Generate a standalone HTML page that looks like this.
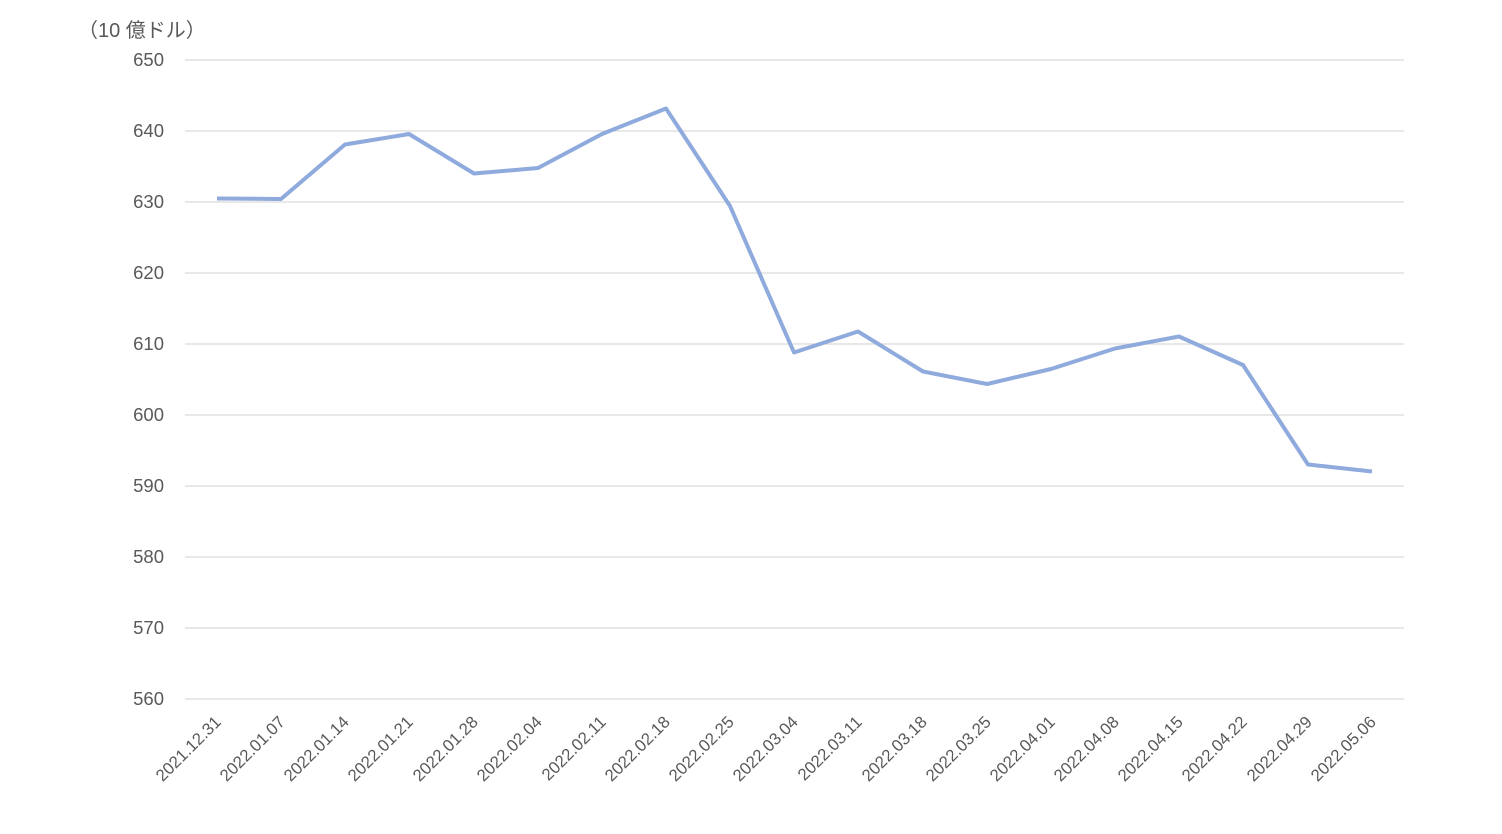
<!DOCTYPE html>
<html><head><meta charset="utf-8"><style>body{margin:0;background:#fff}</style></head><body>
<svg width="1502" height="829" xmlns="http://www.w3.org/2000/svg" style="font-family:'Liberation Sans','Noto Sans CJK JP',sans-serif">
<rect width="1502" height="829" fill="#fff"/>
<text x="78" y="37" font-size="20" fill="#595959">（10 億ドル）</text>
<g stroke="#d9d9d9" stroke-width="1.3">
<line x1="185" x2="1404" y1="60" y2="60"/><line x1="185" x2="1404" y1="131" y2="131"/><line x1="185" x2="1404" y1="202" y2="202"/><line x1="185" x2="1404" y1="273" y2="273"/><line x1="185" x2="1404" y1="344" y2="344"/><line x1="185" x2="1404" y1="415" y2="415"/><line x1="185" x2="1404" y1="486" y2="486"/><line x1="185" x2="1404" y1="557" y2="557"/><line x1="185" x2="1404" y1="628" y2="628"/><line x1="185" x2="1404" y1="699" y2="699"/>
</g>
<g font-size="18.5" fill="#595959" text-anchor="end">
<text x="164" y="66">650</text><text x="164" y="137">640</text><text x="164" y="208">630</text><text x="164" y="279">620</text><text x="164" y="350">610</text><text x="164" y="421">600</text><text x="164" y="492">590</text><text x="164" y="563">580</text><text x="164" y="634">570</text><text x="164" y="705">560</text>
</g>
<polyline fill="none" stroke="#8faadc" stroke-width="4" stroke-linejoin="round" points="217,198.5 281,199 345,144.5 409,134 474,173.5 538,168 602,134 666,108.5 730,206 794,352.5 858,331.5 923,371.5 987,384 1051,369 1115,348.5 1179,336.5 1243,365 1308,464.5 1372,471.5"/>
<g font-size="16.8" fill="#595959" text-anchor="end">
<text transform="translate(222,723) rotate(-45)">2021.12.31</text>
<text transform="translate(286,723) rotate(-45)">2022.01.07</text>
<text transform="translate(350,723) rotate(-45)">2022.01.14</text>
<text transform="translate(414,723) rotate(-45)">2022.01.21</text>
<text transform="translate(479,723) rotate(-45)">2022.01.28</text>
<text transform="translate(543,723) rotate(-45)">2022.02.04</text>
<text transform="translate(607,723) rotate(-45)">2022.02.11</text>
<text transform="translate(671,723) rotate(-45)">2022.02.18</text>
<text transform="translate(735,723) rotate(-45)">2022.02.25</text>
<text transform="translate(799,723) rotate(-45)">2022.03.04</text>
<text transform="translate(863,723) rotate(-45)">2022.03.11</text>
<text transform="translate(928,723) rotate(-45)">2022.03.18</text>
<text transform="translate(992,723) rotate(-45)">2022.03.25</text>
<text transform="translate(1056,723) rotate(-45)">2022.04.01</text>
<text transform="translate(1120,723) rotate(-45)">2022.04.08</text>
<text transform="translate(1184,723) rotate(-45)">2022.04.15</text>
<text transform="translate(1248,723) rotate(-45)">2022.04.22</text>
<text transform="translate(1313,723) rotate(-45)">2022.04.29</text>
<text transform="translate(1377,723) rotate(-45)">2022.05.06</text>
</g>
</svg>
</body></html>
